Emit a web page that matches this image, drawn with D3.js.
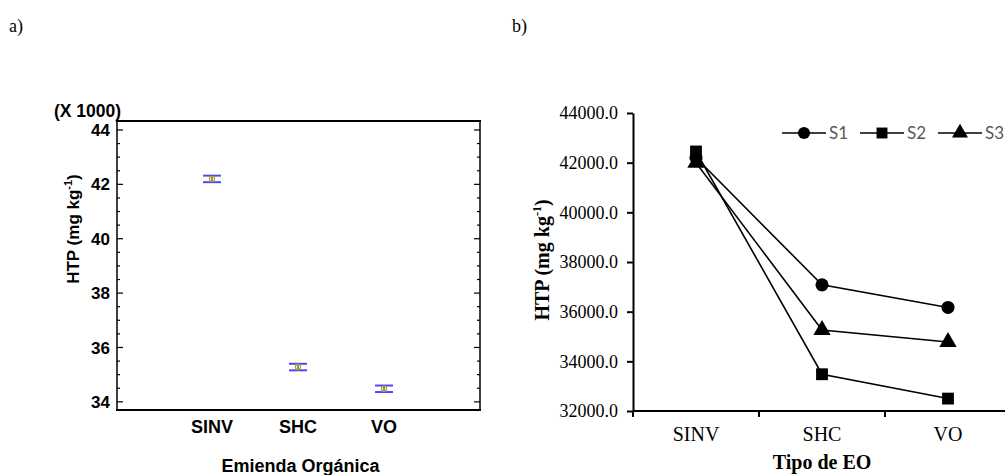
<!DOCTYPE html>
<html><head><meta charset="utf-8">
<script src="https://cdn.jsdelivr.net/npm/d3@7"></script>
<style>body{margin:0;background:#fff}svg{display:block}</style>
</head><body>
<svg id="c" width="1005" height="475"></svg>
<script>
// Panel a data (X 1000 mg/kg)
const catsA = ["SINV", "SHC", "VO"];
const meansA = [42.2, 35.28, 34.48];
const errA = [0.12, 0.12, 0.12];
const ticksA = [34, 36, 38, 40, 42, 44];

// Panel b data
const catsB = ["SINV", "SHC", "VO"];
const seriesNames = ["S1", "S2", "S3"];
const s1 = [42200, 37080, 36170];
const s2 = [42450, 33480, 32500];
const s3 = [42000, 35260, 34780];
const ticksB = [32000, 34000, 36000, 38000, 40000, 42000, 44000];

const svg = d3.select("#c");

// ---------- Panel a ----------
const ax = {l:117, r:480, t:121, b:410};
const xA = d3.scaleLinear().domain([-1.105, 3.116]).range([ax.l, ax.r]);
const yA = d3.scaleLinear().domain([33.7, 44.33]).range([ax.b, ax.t]);
const ga = svg.append("g");
const arial = "'Liberation Sans', Arial, sans-serif";

svg.append("text").attr("x", 9).attr("y", 32).attr("font-family","'Liberation Serif', 'Times New Roman', serif")
  .attr("font-size", 18).text("a)");
svg.append("text").attr("x", 512).attr("y", 32).attr("font-family","'Liberation Serif', 'Times New Roman', serif")
  .attr("font-size", 18).text("b)");

// frame lines
ga.append("line").attr("x1", ax.l-1).attr("x2", ax.r+1).attr("y1", ax.t).attr("y2", ax.t).attr("stroke","#000").attr("stroke-width",2);
ga.append("line").attr("x1", ax.l-1).attr("x2", ax.r+1).attr("y1", ax.b).attr("y2", ax.b).attr("stroke","#000").attr("stroke-width",2);
ga.append("line").attr("x1", ax.l).attr("x2", ax.l).attr("y1", ax.t).attr("y2", ax.b).attr("stroke","#000").attr("stroke-width",1.5);
ga.append("line").attr("x1", ax.r).attr("x2", ax.r).attr("y1", ax.t).attr("y2", ax.b).attr("stroke","#000").attr("stroke-width",1.5);

// ticks (inward) on left and right
const minorA = d3.range(34, 44.01, 0.5);
minorA.forEach(v => {
  const major = Math.abs(v - Math.round(v)) < 1e-6 && Math.round(v) % 2 === 0;
  const len = major ? 6 : 3;
  ga.append("line").attr("x1", ax.l).attr("x2", ax.l+len).attr("y1", yA(v)).attr("y2", yA(v)).attr("stroke","#000").attr("stroke-width",1.2);
  ga.append("line").attr("x1", ax.r).attr("x2", ax.r-len).attr("y1", yA(v)).attr("y2", yA(v)).attr("stroke","#000").attr("stroke-width",1.2);
});
ga.selectAll(".tla").data(ticksA).join("text")
  .attr("x", ax.l-7).attr("y", d => yA(d)).attr("dy","0.36em")
  .attr("text-anchor","end").attr("font-family", arial).attr("font-weight","bold").attr("font-size",17)
  .text(d => d);
ga.append("text").attr("x", ax.l+4).attr("y", ax.t-4).attr("text-anchor","end")
  .attr("font-family", arial).attr("font-weight","bold").attr("font-size",17.5).text("(X 1000)");

// category labels
ga.selectAll(".cla").data(catsA).join("text")
  .attr("x", (d,i) => xA(i)).attr("y", 433).attr("text-anchor","middle")
  .attr("font-family", arial).attr("font-weight","bold").attr("font-size",18).text(d => d);
ga.append("text").attr("x", (ax.l+ax.r)/2+2).attr("y", 472).attr("text-anchor","middle")
  .attr("font-family", arial).attr("font-weight","bold").attr("font-size",18).text("Emienda Orgánica");

// y label
const yla = ga.append("text").attr("transform", "translate(79,229) rotate(-90)").attr("text-anchor","middle")
  .attr("font-family", arial).attr("font-weight","bold").attr("font-size",17);
yla.append("tspan").text("HTP (mg kg");
yla.append("tspan").attr("font-size",11).attr("dy",-7).text("-1");
yla.append("tspan").attr("dy",7).text(")");

// error bars
meansA.forEach((m,i) => {
  const cx = xA(i);
  const g = ga.append("g");
  g.append("line").attr("x1", cx).attr("x2", cx).attr("y1", yA(m+errA[i])).attr("y2", yA(m-errA[i])).attr("stroke","#2a2ae0").attr("stroke-width",1.2);
  [m+errA[i], m-errA[i]].forEach(v => {
    g.append("line").attr("x1", cx-9).attr("x2", cx+9).attr("y1", yA(v)).attr("y2", yA(v)).attr("stroke","#4a4af5").attr("stroke-width",2);
  });
  g.append("circle").attr("cx", cx).attr("cy", yA(m)).attr("r", 2.6).attr("fill","none").attr("stroke","#b8a800").attr("stroke-width",1.2);
});

// ---------- Panel b ----------
const bx = {l:633, r:1011, t:113, b:411};
const times = "'Liberation Serif', 'Times New Roman', serif";
const xB = d3.scaleBand().domain(catsB).range([bx.l, bx.r]).padding(0);
const yB = d3.scaleLinear().domain([32000, 44000]).range([bx.b, bx.t]);
const gb = svg.append("g");

const yAxisB = d3.axisLeft(yB).tickValues(ticksB).tickFormat(d3.format(".1f")).tickSize(6).tickSizeOuter(0);
const gy = gb.append("g").attr("transform", `translate(${bx.l},0)`).call(yAxisB);
gy.select(".domain").attr("stroke","#000").attr("stroke-width",2);
gy.selectAll(".tick line").attr("stroke","#000").attr("stroke-width",2);
gy.selectAll(".tick text").attr("font-family", times).attr("font-size",18).attr("fill","#000").attr("x",-15);

const gx = gb.append("g").attr("transform", `translate(0,${bx.b})`);
gx.append("line").attr("x1", bx.l).attr("x2", 1005).attr("y1",0).attr("y2",0).attr("stroke","#000").attr("stroke-width",2);
[bx.l, xB("SHC"), xB("VO")].forEach(x => {
  gx.append("line").attr("x1", x).attr("x2", x).attr("y1", 0).attr("y2", 6).attr("stroke","#000").attr("stroke-width",2);
});
gx.selectAll(".clb").data(catsB).join("text")
  .attr("x", d => xB(d) + xB.bandwidth()/2).attr("y", 30).attr("text-anchor","middle")
  .attr("font-family", times).attr("font-size",20).text(d => d);

gb.append("text").attr("x", 822).attr("y", 469).attr("text-anchor","middle")
  .attr("font-family", times).attr("font-weight","bold").attr("font-size",20).text("Tipo de EO");
const ylb = gb.append("text").attr("transform", "translate(549,260) rotate(-90)").attr("text-anchor","middle")
  .attr("font-family", times).attr("font-weight","bold").attr("font-size",20);
ylb.append("tspan").text("HTP (mg kg");
ylb.append("tspan").attr("font-size",12).attr("dy",-8).text("-1");
ylb.append("tspan").attr("dy",8).text(")");

const seriesData = [s1, s2, s3];
const symbols = [d3.symbolCircle, d3.symbolSquare, d3.symbolTriangle];
const symSizes = [135, 140, 130];
const line = d3.line().x((d,i) => xB(catsB[i]) + xB.bandwidth()/2).y(d => yB(d));
seriesData.forEach((vals, si) => {
  gb.append("path").attr("d", line(vals)).attr("fill","none").attr("stroke","#000").attr("stroke-width",1.6);
});
seriesData.forEach((vals, si) => {
  vals.forEach((v,i) => {
    gb.append("path").attr("d", d3.symbol(symbols[si], symSizes[si])())
      .attr("transform", `translate(${xB(catsB[i]) + xB.bandwidth()/2},${yB(v)})`).attr("fill","#000");
  });
});

// legend
const legX = [782, 860, 938];
seriesNames.forEach((n, i) => {
  const g = gb.append("g").attr("transform", `translate(${legX[i]},133)`);
  g.append("line").attr("x1",0).attr("x2",44).attr("y1",0).attr("y2",0).attr("stroke","#000").attr("stroke-width",1.6);
  g.append("path").attr("d", d3.symbol(symbols[i], symSizes[i] * 0.85)()).attr("transform","translate(22,0)").attr("fill","#000");
  g.append("text").attr("x", 47).attr("y", 0).attr("dy","0.35em").attr("font-family","Lato, 'Open Sans', sans-serif")
    .attr("font-size",17).attr("fill","#595959").text(n);
});
</script>
</body></html>
